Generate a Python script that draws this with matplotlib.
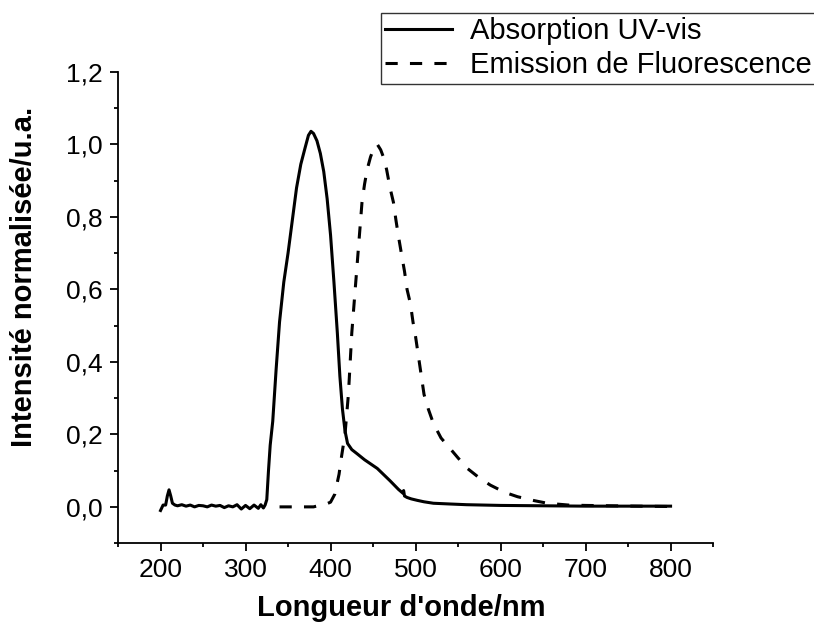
import matplotlib
matplotlib.use('Agg')
import matplotlib.pyplot as plt
from matplotlib.ticker import MultipleLocator, FuncFormatter

# UV-vis absorption (normalised)
abs_wl = [200, 203, 206, 208, 210, 212, 214, 217, 220, 225, 230, 235, 240, 245, 250,
          255, 260, 265, 270, 275, 280, 285, 290, 295, 300, 305, 310, 315, 318, 321,
          323, 325, 327, 329, 332, 336, 340, 345, 350, 355, 360, 365, 370, 374, 377,
          380, 384, 388, 392, 396, 400, 404, 408, 411, 414, 417, 420, 425, 431, 440,
          455, 470, 480, 485, 486, 487, 490, 495, 502, 510, 521, 540, 560, 600, 650,
          700, 750, 800]
abs_int = [-0.01, 0.005, 0.005, 0.03, 0.047, 0.03, 0.01, 0.005, 0.003, 0.006, 0.002,
           0.005, 0.0, 0.004, 0.003, 0.0, 0.005, 0.002, 0.004, -0.002, 0.003, 0.0,
           0.006, -0.006, 0.004, -0.005, 0.005, -0.004, 0.006, -0.003, 0.005, 0.02,
           0.1, 0.17, 0.236, 0.38, 0.51, 0.62, 0.70, 0.79, 0.88, 0.945, 0.99, 1.025,
           1.036, 1.03, 1.01, 0.975, 0.925, 0.85, 0.75, 0.62, 0.48, 0.36, 0.27, 0.21,
           0.175, 0.158, 0.147, 0.13, 0.106, 0.072, 0.048, 0.038, 0.045, 0.03, 0.026,
           0.022, 0.018, 0.014, 0.01, 0.008, 0.006, 0.004, 0.003, 0.002, 0.002, 0.002]

# fluorescence emission (normalised)
em_wl = [340, 350, 360, 370, 380, 385, 390, 395, 400, 405, 410, 413, 417, 421, 425,
         428, 431, 434, 437, 440, 443, 447, 451, 455, 459, 463, 466, 470, 474, 477,
         480, 484, 487, 490, 494, 497, 500, 505, 510, 515, 521, 530, 541, 550, 561,
         575, 588, 605, 620, 640, 655, 680, 700, 730, 760, 800]
em_int = [0, 0, 0, 0, 0, 0.003, 0.005, 0.008, 0.013, 0.035, 0.09, 0.14, 0.2, 0.31,
          0.48, 0.57, 0.66, 0.75, 0.84, 0.89, 0.93, 0.965, 0.99, 1.0, 0.985, 0.96,
          0.93, 0.88, 0.84, 0.79, 0.745, 0.69, 0.65, 0.6, 0.56, 0.51, 0.47, 0.39,
          0.31, 0.27, 0.23, 0.19, 0.16, 0.135, 0.106, 0.08, 0.06, 0.04, 0.028, 0.017,
          0.01, 0.005, 0.004, 0.003, 0.002, 0.001]

plt.rcParams['font.family'] = ['Liberation Sans', 'DejaVu Sans']

fig = plt.figure(figsize=(8.14, 6.25), dpi=100)
ax = fig.add_axes([0.145, 0.131, 0.731, 0.754])

ax.plot(abs_wl, abs_int, color='black', lw=2.2, label='Absorption UV-vis')
ax.plot(em_wl, em_int, color='black', lw=2.2, linestyle=(0, (4, 4)),
        label='Emission de Fluorescence')

ax.set_xlim(150, 850)
ax.set_ylim(-0.1, 1.2)
ax.xaxis.set_major_locator(MultipleLocator(100))
ax.xaxis.set_minor_locator(MultipleLocator(50))
ax.yaxis.set_major_locator(MultipleLocator(0.2))
ax.yaxis.set_minor_locator(MultipleLocator(0.1))
ax.yaxis.set_major_formatter(FuncFormatter(lambda v, p: f'{v:.1f}'.replace('.', ',').replace('-0,0', '0,0')))

for side in ['top', 'right']:
    ax.spines[side].set_visible(False)
for side in ['left', 'bottom']:
    ax.spines[side].set_linewidth(1.3)
ax.tick_params(which='major', direction='out', length=6, width=1.3, labelsize=19, pad=5)
ax.tick_params(which='minor', direction='out', length=3, width=1.3)

ax.set_xlabel("Longueur d'onde/nm", fontsize=21, fontweight='bold')
ax.set_ylabel('Intensité normalisée/u.a.', fontsize=21, fontweight='bold')
ax.xaxis.set_label_coords(0.476, -0.108)
ax.yaxis.set_label_coords(-0.134, 0.564)

leg = fig.legend(loc='upper left', bbox_to_anchor=(381 / 814, 1 - 13 / 625),
                 fontsize=21, frameon=True, fancybox=False, handlelength=2.3,
                 borderaxespad=0, borderpad=0.15, labelspacing=0.2, handletextpad=0.6)
leg.get_frame().set_edgecolor('black')
leg.get_frame().set_linewidth(1.0)

fig.savefig('out.png', dpi=100)
